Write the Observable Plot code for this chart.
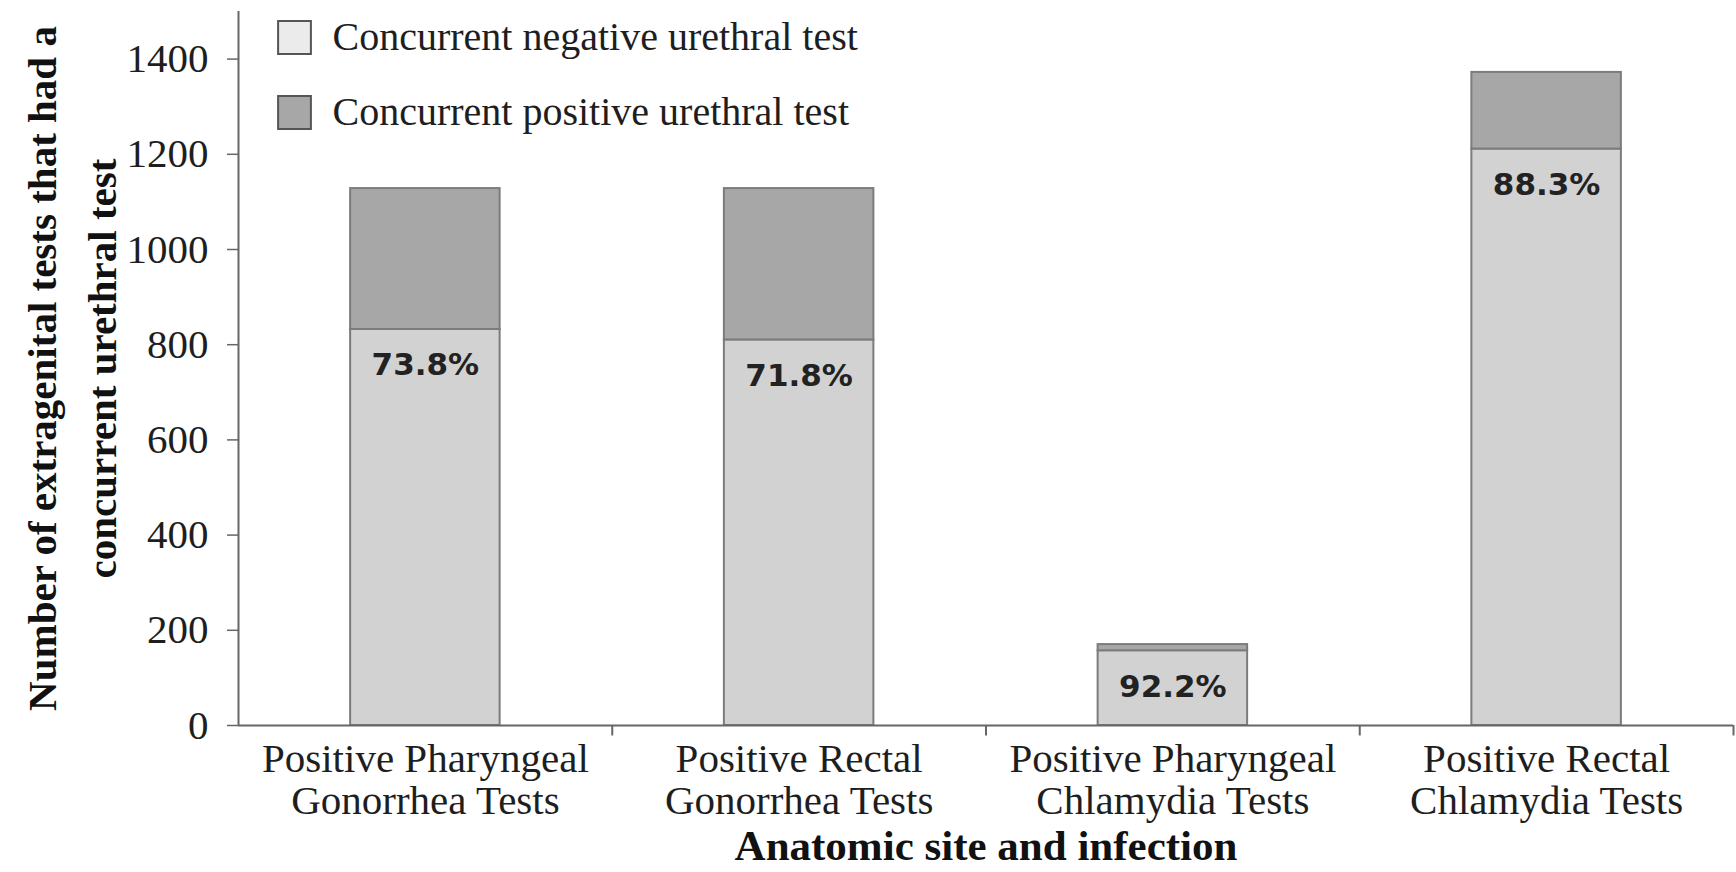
<!DOCTYPE html>
<html>
<head>
<meta charset="utf-8">
<script src="https://cdn.jsdelivr.net/npm/d3@7"></script>
<script src="https://cdn.jsdelivr.net/npm/@observablehq/plot@0.6"></script>
<style>
  html, body { margin: 0; padding: 0; background: #fff; }
  #chart svg { display: block; overflow: visible; }
</style>
</head>
<body>
<div id="chart"></div>
<script>
const categories = [
  "Positive Pharyngeal\nGonorrhea Tests",
  "Positive Rectal\nGonorrhea Tests",
  "Positive Pharyngeal\nChlamydia Tests",
  "Positive Rectal\nChlamydia Tests"
];
const seriesNames = ["Concurrent negative urethral test", "Concurrent positive urethral test"];
const negativeValues = [832, 810, 157, 1211];
const positiveValues = [296, 318, 13, 161];
const percentLabels = ["73.8%", "71.8%", "92.2%", "88.3%"];
const yTicks = [0, 200, 400, 600, 800, 1000, 1200, 1400];
const yTitle = "Number of extragenital tests that had a\nconcurrent urethral test";
const xTitle = "Anatomic site and infection";

const rows = [];
categories.forEach((c, i) => {
  rows.push({cat: c, series: seriesNames[0], value: negativeValues[i]});
  rows.push({cat: c, series: seriesNames[1], value: positiveValues[i]});
});
const labelRows = categories.map((c, i) => ({cat: c, y: negativeValues[i], text: percentLabels[i]}));

const W = 1736, H = 872;
const mL = 238, mR = 3, mT = 11, mB = 147;
const step = (W - mL - mR) / categories.length;
const serif = "Liberation Serif, Times New Roman, serif";

const chart = Plot.plot({
  width: W, height: H,
  marginLeft: mL, marginRight: mR, marginTop: mT, marginBottom: mB,
  style: {background: "#fff", fontFamily: serif, overflow: "visible"},
  x: {domain: categories, paddingInner: 0.6, paddingOuter: 0.3, round: false, axis: null},
  y: {domain: [0, 1500], axis: null},
  color: {domain: seriesNames, range: ["#d2d2d2", "#a7a7a7"]},
  marks: [
    Plot.barY(rows, Plot.stackY({x: "cat", y: "value", fill: "series", order: seriesNames, stroke: "#7c7c7c", strokeWidth: 2})),
    Plot.axisY({ticks: yTicks, tickFormat: d3.format("d"), tickSize: 11, tickPadding: 19, fontSize: 41, fontFamily: serif, fill: "#1e1e1e", stroke: "#666", strokeWidth: 1.5}),
    // y axis line
    Plot.ruleX([categories[0]], {x: d => d, dx: -step / 2, y1: 0, y2: 1500, stroke: "#666", strokeWidth: 2}),
    // baseline
    Plot.ruleY([0], {stroke: "#666", strokeWidth: 2}),
    // category separator ticks
    Plot.ruleX(categories, {x: d => d, dx: step / 2, y1: 0, y2: -22, stroke: "#666", strokeWidth: 2}),
    // category labels
    Plot.text(categories, {x: d => d, text: d => d, frameAnchor: "bottom", dy: 54, lineAnchor: "middle", lineHeight: 1.03, fontSize: 41, fontFamily: serif, fill: "#1e1e1e"}),
    // percentage labels
    Plot.text(labelRows, {x: "cat", y: "y", text: "text", dy: 36, fontSize: 31, fontWeight: "bold", fontFamily: "DejaVu Sans, Verdana, sans-serif", fill: "#222"}),
    // legend
    Plot.dot([seriesNames[0]], {frameAnchor: "top-left", dx: 56, dy: 26, symbol: "square", r: 18.5, fill: "#ebebeb", stroke: "#555", strokeWidth: 2}),
    Plot.dot([seriesNames[1]], {frameAnchor: "top-left", dx: 56, dy: 101, symbol: "square", r: 18.5, fill: "#a7a7a7", stroke: "#555", strokeWidth: 2}),
    Plot.text([seriesNames[0]], {frameAnchor: "top-left", dx: 94, dy: 26, text: d => d, textAnchor: "start", lineAnchor: "middle", fontSize: 40, fontFamily: serif, fill: "#1e1e1e"}),
    Plot.text([seriesNames[1]], {frameAnchor: "top-left", dx: 94, dy: 101, text: d => d, textAnchor: "start", lineAnchor: "middle", fontSize: 40, fontFamily: serif, fill: "#1e1e1e"}),
    // axis titles
    Plot.text([yTitle], {frameAnchor: "left", dx: -172, rotate: -90, text: d => d, textAnchor: "middle", lineAnchor: "middle", lineHeight: 1.46, fontSize: 41, fontWeight: "bold", fontFamily: serif, fill: "#111"}),
    Plot.text([xTitle], {frameAnchor: "bottom", dy: 121, text: d => d, textAnchor: "middle", lineAnchor: "middle", fontSize: 43, fontWeight: "bold", fontFamily: serif, fill: "#111"})
  ]
});
document.getElementById("chart").appendChild(chart);
</script>
</body>
</html>
